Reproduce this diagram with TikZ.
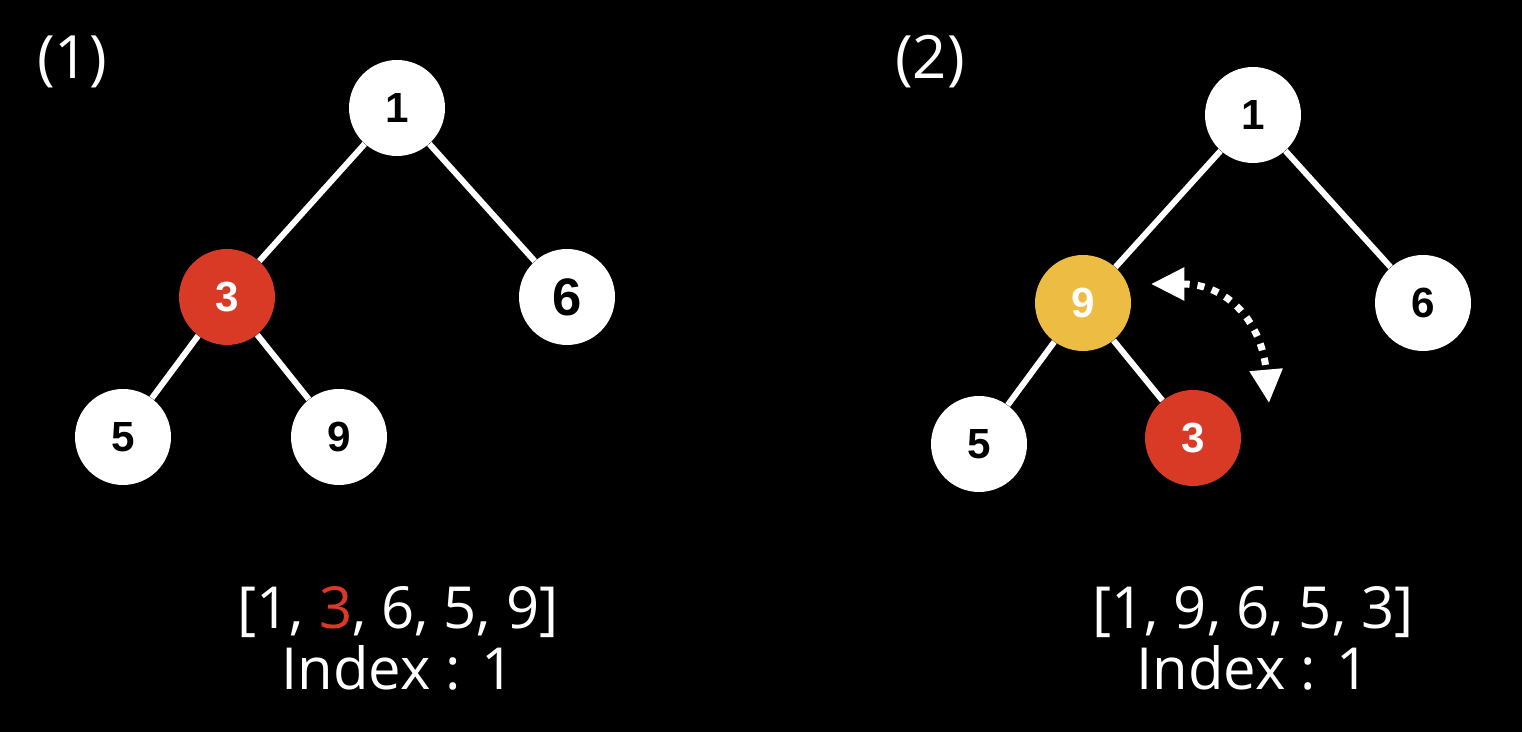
\documentclass[tikz,border=0pt]{standalone}
\usepackage{fontspec}
\setmainfont{Liberation Sans}
\newfontfamily\listfont{Open Sans}
\usepackage{xcolor}
\usetikzlibrary{arrows.meta}

\definecolor{heapred}{HTML}{D93A25}
\definecolor{heapyellow}{HTML}{EDBC42}

\begin{document}
\begin{tikzpicture}[
  x=0.02cm, y=-0.02cm,
  vtx/.style={circle, fill=white, minimum size=1.92cm, inner sep=0pt, font=\bfseries\fontsize{24}{26}\selectfont},
  hot/.style={vtx, fill=heapred, text=white},
  moved/.style={vtx, fill=heapyellow, text=white},
  edg/.style={white, line width=3.4pt},
  swp/.style={{Triangle[length=19pt,width=18pt]}-{Triangle[length=19pt,width=18pt]}, white, line width=4pt, dash pattern=on 4pt off 4.5pt},
  lbl/.style={text=white, font=\listfont\fontsize{34}{36}\selectfont},
  arr/.style={text=white, font=\listfont\fontsize{33}{35}\selectfont}
]
\fill[black] (0,0) rectangle (1522,732);
\useasboundingbox (0,0) rectangle (1522,732);

% (1)
\node[lbl] (T1) at (72,62) {(1)};
\node[vtx] (A1) at (397,108) {1};
\node[hot] (A3) at (227,297) {3};
\node[vtx, font=\bfseries\fontsize{30}{32}\selectfont] (A6) at (567,297) {6};
\node[vtx] (A5) at (123,437) {5};
\node[vtx] (A9) at (339,437) {9};
\node[arr] (AL) at (398,612) {[1, \textcolor{heapred}{3}, 6, 5, 9]};
\node[arr] (AI) at (398,668) {Index : 1};

% (2)
\node[lbl] (T2) at (930,62) {(2)};
\node[vtx] (B1) at (1253,115) {1};
\node[moved] (B9) at (1083,303) {9};
\node[vtx] (B6) at (1423,303) {6};
\node[vtx] (B5) at (979,444) {5};
\node[hot] (B3) at (1193,438) {3};
\node[arr] (BL) at (1253,612) {[1, 9, 6, 5, 3]};
\node[arr] (BI) at (1253,668) {Index : 1};

\coordinate (S1) at (1151,284);
\coordinate (S2) at (1269,403);

\draw[edg] (A1) -- (A3);
\draw[edg] (A1) -- (A6);
\draw[edg] (A3) -- (A5);
\draw[edg] (A3) -- (A9);
\draw[edg] (B1) -- (B9);
\draw[edg] (B1) -- (B6);
\draw[edg] (B9) -- (B5);
\draw[edg] (B9) -- (B3);
\draw[swp] (S1) to[out=0, in=95, looseness=1.2] (S2);

\end{tikzpicture}
\end{document}
